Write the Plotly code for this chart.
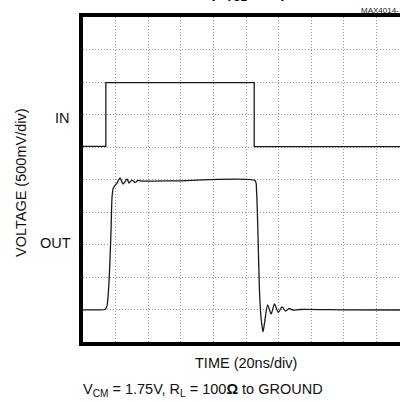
import plotly.graph_objects as go

# Data in grid divisions (x: 20ns/div, y: 500mV/div)
in_x = [0.0, 0.70, 0.70, 5.25, 5.25, 9.72]
in_y = [6.02, 6.02, 7.98, 7.98, 6.01, 6.01]

out_x = [0.0, 0.40, 0.675, 0.736, 0.80, 0.86, 0.89, 0.93, 1.04, 1.135, 1.227, 1.35, 1.41, 1.50,
         1.595, 1.687, 1.84, 3.0, 5.28, 5.32, 5.37, 5.41, 5.46, 5.52, 5.57, 5.66, 5.77, 5.87,
         5.99, 6.10, 6.21, 6.32, 6.44, 6.66, 8.0, 9.72]
out_y = [0.99, 0.99, 1.0, 1.11, 1.9, 3.45, 4.46, 4.74, 4.89, 5.05, 4.86, 5.02, 4.89, 4.98,
         4.91, 4.97, 4.95, 4.96, 4.96, 4.68, 3.14, 1.6, 0.74, 0.31, 0.62, 1.14, 0.86, 1.17,
         0.91, 1.08, 0.95, 1.03, 0.98, 1.0, 0.99, 0.985]

FONT = "Liberation Sans, Arial, Helvetica, sans-serif"

X0, W = 83, 317
YB, H = 342, 325


def px(x):
    return (x - X0) / W


def py(y):
    return (YB - y) / H


fig = go.Figure()
fig.add_trace(go.Scatter(x=in_x, y=in_y, mode="lines", line_shape="linear",
                         line=dict(color="#1a1a1a", width=1.3), hoverinfo="skip"))
fig.add_trace(go.Scatter(x=out_x, y=out_y, mode="lines", line_shape="spline",
                         line=dict(color="#1a1a1a", width=1.3, smoothing=0.6), hoverinfo="skip"))

axis_common = dict(showgrid=True, gridcolor="#9a9a9a", gridwidth=1, griddash="1px,2px",
                   zeroline=False, showticklabels=False, ticks="", dtick=1, tick0=0,
                   showline=True, linecolor="black", linewidth=3.5, fixedrange=True)

fig.update_xaxes(range=[0, 9.72], mirror=True, **axis_common)
fig.update_yaxes(range=[0, 10], mirror=False, **axis_common)

ann = []
ann.append(dict(text="<b>(A<sub>VCL</sub> = +1)</b>", x=px(248), y=py(5.2), xanchor="center",
                yanchor="bottom", font=dict(size=15, family=FONT, color="black")))
ann.append(dict(text="MAX4014-", x=px(401), y=py(10), xanchor="right", yanchor="middle",
                font=dict(size=8, family=FONT, color="#222")))
ann.append(dict(text="VOLTAGE (500mV/div)", x=px(21), y=py(183), xanchor="center",
                yanchor="middle", textangle=-90, font=dict(size=14.5, family=FONT, color="#111")))
ann.append(dict(text="IN", x=px(62), y=py(118), xanchor="center", yanchor="middle",
                font=dict(size=14.5, family=FONT, color="#111")))
ann.append(dict(text="OUT", x=px(55), y=py(243), xanchor="center", yanchor="middle",
                font=dict(size=14.5, family=FONT, color="#111")))
ann.append(dict(text="TIME (20ns/div)", x=px(246), y=py(363), xanchor="center", yanchor="middle",
                font=dict(size=14.5, family=FONT, color="#111")))
ann.append(dict(text="V<sub>CM</sub> = 1.75V, R<sub>L</sub> = 100<b>Ω</b> to GROUND", x=px(81),
                y=py(390), xanchor="left", yanchor="middle",
                font=dict(size=14.5, family=FONT, color="#111")))
for a in ann:
    a.update(xref="paper", yref="paper", showarrow=False)

fig.update_layout(width=400, height=402, margin=dict(l=X0, r=0, t=17, b=60),
                  paper_bgcolor="white", plot_bgcolor="white", showlegend=False,
                  annotations=ann)

fig.write_html("out.html", config={"displayModeBar": False},
               post_script="document.body.style.margin='0';document.body.style.overflow='hidden';")
